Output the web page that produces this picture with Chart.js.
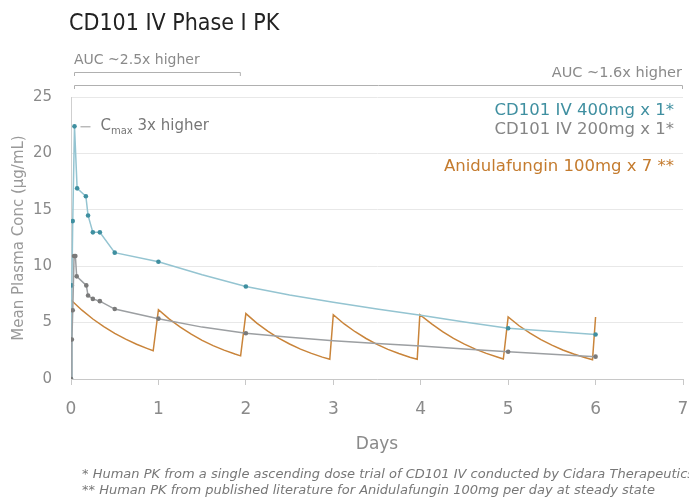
<!DOCTYPE html>
<html>
<head>
<meta charset="utf-8">
<script src="https://cdn.jsdelivr.net/npm/chart.js@4"></script>
<style>
html,body{margin:0;padding:0;background:#fff;}
#wrap{width:689px;height:499px;position:relative;}
</style>
</head>
<body>
<div id="wrap"><canvas id="c" width="689" height="499"></canvas></div>
<script>
// ---- data ----
const days400 = [0, 0.01, 0.02, 0.04, 0.07, 0.17, 0.195, 0.25, 0.33, 0.5, 1, 1.5, 2, 2.5, 3, 3.5, 4, 4.5, 5, 6];
const conc400 = [0, 8.3, 14.0, 22.4, 16.9, 16.2, 14.5, 13.0, 13.0, 11.2, 10.4, 9.25, 8.2, 7.45, 6.8, 6.2, 5.65, 5.05, 4.5, 3.95];
const mark400 = [1, 1, 1, 1, 1, 1, 1, 1, 1, 1, 1, 0, 1, 0, 0, 0, 0, 0, 1, 1];

const days200 = [0, 0.01, 0.02, 0.035, 0.05, 0.065, 0.175, 0.195, 0.25, 0.33, 0.5, 1, 1.5, 2, 2.5, 3, 3.5, 4, 4.5, 5, 6];
const conc200 = [0, 3.5, 6.1, 10.9, 10.9, 9.1, 8.3, 7.4, 7.1, 6.9, 6.2, 5.35, 4.6, 4.05, 3.7, 3.4, 3.15, 2.93, 2.67, 2.42, 1.98];
const mark200 = [1, 1, 1, 1, 1, 1, 1, 1, 1, 1, 1, 1, 0, 1, 0, 0, 0, 0, 0, 1, 1];

const daysAnid = [
  0, 0.125, 0.25, 0.375, 0.5, 0.625, 0.75, 0.875, 0.94,
  1.0, 1.125, 1.25, 1.375, 1.5, 1.625, 1.75, 1.875, 1.94,
  2.0, 2.125, 2.25, 2.375, 2.5, 2.625, 2.75, 2.875, 2.96,
  3.0, 3.125, 3.25, 3.375, 3.5, 3.625, 3.75, 3.875, 3.96,
  3.99, 4.125, 4.25, 4.375, 4.5, 4.625, 4.75, 4.875, 4.945,
  5.0, 5.125, 5.25, 5.375, 5.5, 5.625, 5.75, 5.875, 5.965,
  6.0];
const concAnid = [
  7.0, 6.1, 5.32, 4.64, 4.05, 3.53, 3.08, 2.69, 2.5,
  6.15, 5.31, 4.59, 3.97, 3.43, 2.96, 2.56, 2.21, 2.05,
  5.8, 4.96, 4.24, 3.63, 3.1, 2.65, 2.27, 1.94, 1.75,
  5.7, 4.88, 4.19, 3.59, 3.07, 2.63, 2.26, 1.93, 1.75,
  5.7, 4.89, 4.2, 3.6, 3.09, 2.65, 2.27, 1.95, 1.77,
  5.5, 4.72, 4.06, 3.49, 3.0, 2.57, 2.21, 1.9, 1.7,
  5.5];

const xTicks = [0, 1, 2, 3, 4, 5, 6, 7];
const yTicks = [0, 5, 10, 15, 20, 25];

const seriesNames = ['CD101 IV 400mg x 1*', 'CD101 IV 200mg x 1*', 'Anidulafungin 100mg x 7 **'];
const titleText = 'CD101 IV Phase I PK';
const aucShort = 'AUC ~2.5x higher';
const aucLong = 'AUC ~1.6x higher';
const footnotes = [
  '* Human PK from a single ascending dose trial of CD101 IV conducted by Cidara Therapeutics',
  '** Human PK from published literature for Anidulafungin 100mg per day at steady state'
];

const FONT = '"DejaVu Sans", sans-serif';
const TEAL = '#3f8fa0', TEAL_LINE = '#94c4d1';
const GREY = '#7a7a7a', GREY_LINE = '#9c9fa2';
const ORANGE = '#c9843a';

const toPts = (xs, ys) => xs.map((x, i) => ({x: x, y: ys[i]}));

const annot = {
  id: 'annot',
  afterDraw(chart) {
    const ctx = chart.ctx;
    const xs = chart.scales.x, ys = chart.scales.y;
    ctx.save();
    ctx.textBaseline = 'middle';
    // title
    ctx.fillStyle = '#222';
    ctx.font = '23px "DejaVu Sans Condensed", "DejaVu Sans", sans-serif';
    ctx.textAlign = 'left';
    ctx.fillText(titleText, 69, 24);
    // AUC annotations
    ctx.fillStyle = '#8a8a8a';
    ctx.font = '14px ' + FONT;
    ctx.fillText(aucShort, 74, 60);
    ctx.textAlign = 'right';
    ctx.font = '14.5px ' + FONT;
    ctx.fillText(aucLong, 682, 73);
    // brackets
    ctx.strokeStyle = '#b0b0b0';
    ctx.lineWidth = 1;
    const x0 = 74, x2 = xs.getPixelForValue(2), x7 = xs.getPixelForValue(7);
    ctx.beginPath();
    ctx.moveTo(x0 + 0.5, 76); ctx.lineTo(x0 + 0.5, 72.5); ctx.lineTo(x2 - 5.5, 72.5); ctx.lineTo(x2 - 5.5, 76);
    ctx.moveTo(x0 + 0.5, 89); ctx.lineTo(x0 + 0.5, 85.5); ctx.lineTo(x7 - 0.5, 85.5); ctx.lineTo(x7 - 0.5, 89);
    ctx.stroke();
    // legend texts
    ctx.font = '16.5px ' + FONT;
    ctx.fillStyle = TEAL; ctx.fillText(seriesNames[0], 674, 111);
    ctx.fillStyle = '#858585'; ctx.fillText(seriesNames[1], 674, 130);
    ctx.fillStyle = '#c47b2e'; ctx.fillText(seriesNames[2], 674, 167);
    // Cmax annotation
    const iMax = conc400.indexOf(Math.max(...conc400));
    const px = xs.getPixelForValue(days400[iMax]);
    const py = ys.getPixelForValue(conc400[iMax]);
    ctx.strokeStyle = '#999';
    ctx.beginPath(); ctx.moveTo(px + 6, py + 0.5); ctx.lineTo(px + 16, py + 0.5); ctx.stroke();
    ctx.fillStyle = '#777';
    ctx.textAlign = 'left';
    ctx.font = '15px ' + FONT;
    let tx = px + 26;
    ctx.fillText('C', tx, py);
    tx += ctx.measureText('C').width;
    ctx.font = '10px ' + FONT;
    ctx.fillText('max', tx, py + 5);
    tx += ctx.measureText('max').width;
    ctx.font = '15px ' + FONT;
    ctx.fillText(' 3x higher', tx, py);
    // footnotes
    ctx.fillStyle = '#777';
    ctx.font = 'italic 13px "DejaVu Sans", sans-serif';
    ctx.fillText(footnotes[0], 82, 475);
    ctx.fillText(footnotes[1], 82, 491);
    ctx.restore();
  }
};

new Chart(document.getElementById('c'), {
  type: 'line',
  data: {
    datasets: [
      {
        label: seriesNames[1],
        data: toPts(days200, conc200),
        borderColor: GREY_LINE,
        borderWidth: 1.5,
        pointRadius: mark200.map(m => m ? 2.3 : 0),
        pointBackgroundColor: GREY,
        pointBorderColor: GREY,
        pointBorderWidth: 0,
        tension: 0
      },
      {
        label: seriesNames[0],
        data: toPts(days400, conc400),
        borderColor: TEAL_LINE,
        borderWidth: 1.5,
        pointRadius: mark400.map(m => m ? 2.3 : 0),
        pointBackgroundColor: TEAL,
        pointBorderColor: TEAL,
        pointBorderWidth: 0,
        tension: 0
      },
      {
        label: seriesNames[2],
        data: toPts(daysAnid, concAnid),
        borderColor: ORANGE,
        borderWidth: 1.5,
        pointRadius: 0,
        tension: 0
      }
    ]
  },
  options: {
    responsive: false,
    animation: false,
    events: [],
    layout: {padding: {left: 0, top: 97, right: 6, bottom: 40}},
    plugins: {legend: {display: false}, tooltip: {enabled: false}, title: {display: false}},
    scales: {
      x: {
        type: 'linear',
        min: 0, max: 7,
        afterBuildTicks(s) { s.ticks = xTicks.map(v => ({value: v})); },
        afterFit(s) { s.height = 80; s.paddingLeft = 0; s.paddingRight = 6; },
        grid: {drawOnChartArea: false, drawTicks: true, tickLength: 6, color: '#c8c8c8'},
        border: {display: true, color: '#c8c8c8'},
        ticks: {color: '#8a8a8a', font: {family: FONT, size: 17}, padding: 14, maxRotation: 0},
        title: {display: true, text: 'Days', color: '#8a8a8a', font: {family: FONT, size: 17}, padding: {top: 0, bottom: 4}}
      },
      y: {
        min: 0, max: 25,
        afterBuildTicks(s) { s.ticks = yTicks.map(v => ({value: v})); },
        afterFit(s) { s.width = 71; },
        grid: {color: '#e8e8e8', drawTicks: false, tickLength: 0},
        border: {display: true, color: '#cfcfcf'},
        ticks: {color: '#8a8a8a', font: {family: FONT, size: 15}, padding: 19},
        title: {display: true, text: 'Mean Plasma Conc (μg/mL)', color: '#999', font: {family: FONT, size: 15}, padding: {top: 10, bottom: 0}}
      }
    }
  },
  plugins: [annot]
});
</script>
</body>
</html>
